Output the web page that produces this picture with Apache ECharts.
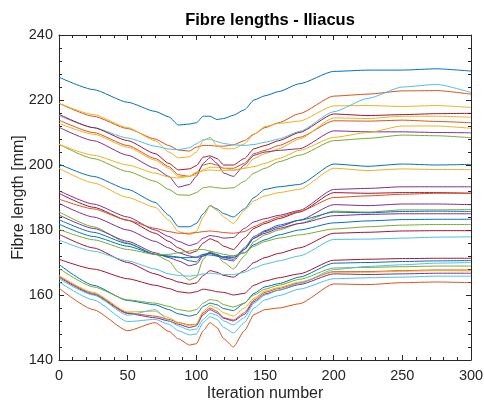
<!DOCTYPE html>
<html>
<head>
<meta charset="utf-8">
<script src="https://cdn.jsdelivr.net/npm/echarts@6/dist/echarts.min.js"></script>
<style>
  html, body { margin: 0; padding: 0; background: #fff; }
  #chart { width: 484px; height: 401px; }
</style>
</head>
<body>
<div id="chart"></div>
<script>
const iterations = [0, 25, 50, 70, 80, 87, 95, 100, 105, 110, 115, 120, 127, 135, 142, 150, 160, 175, 200, 225, 250, 275, 300];

// fibre lengths [mm], top group
const fibre01 = [227, 223.2, 219.3, 216.5, 214.8, 212.3, 212.6, 213, 215, 215, 214, 214.3, 215.3, 217, 220, 221.3, 222.6, 225, 228.8, 229.2, 229.2, 229.6, 228.9];
const fibre02 = [219, 215, 211.2, 208, 206, 204.6, 204.3, 205.5, 206, 206, 205.8, 205.8, 206.2, 207.5, 209.5, 211.5, 213, 215.8, 221.2, 221.8, 222.8, 222.9, 221.8];
const fibre03 = [219, 215.5, 211.5, 207.5, 204, 202.2, 202.5, 204, 207.5, 208.5, 206, 205, 205, 206.5, 209.5, 211.8, 212.8, 213.5, 218.2, 218.3, 218, 218.3, 217.7];
const fibre04 = [215.2, 211.5, 208.3, 205.8, 204.9, 204.7, 205.3, 206.5, 207.8, 208, 207.2, 206.6, 206.2, 206, 206.3, 207, 208, 210.3, 216.4, 220.5, 224, 224.8, 222.3];
const fibre05 = [215.6, 211.5, 207.5, 203.5, 200.5, 198.5, 198.8, 199.8, 202.4, 202.8, 202, 200, 200, 202, 205, 206, 207.5, 210, 215.7, 215.2, 215.5, 215.8, 215.9];
const fibre06 = [213.8, 210, 206, 202, 199.5, 197, 196.5, 197.5, 200, 200.5, 200, 199, 199, 200.5, 203.5, 204.5, 206, 208.5, 213.6, 213.5, 213.8, 213.4, 213];
const fibre07 = [212.8, 209.5, 205.5, 201.5, 199, 196.5, 196.5, 197, 198.5, 199.3, 199.3, 199, 198.3, 199, 202, 203.5, 205, 208, 214.5, 214.3, 215, 215, 214.7];
const fibre08 = [211.6, 207.5, 203, 199, 196.5, 193.2, 194, 196.5, 200.5, 202.3, 200.5, 197.5, 196.5, 200, 203, 204, 204.5, 205, 210.5, 210.2, 210.2, 210, 209.9];
const fibre09 = [206.4, 202, 198, 195, 192.5, 190.8, 190.7, 191.5, 193, 193.3, 193, 192.8, 193, 195, 197.5, 199, 201, 203, 207.5, 208.2, 209.2, 209, 208.4];
const fibre10 = [206.4, 203, 200, 197.5, 196.3, 196, 196.5, 197.8, 198.2, 198.5, 198.3, 198.3, 198.5, 199, 199.5, 200.5, 202, 204.5, 208.5, 210, 212, 212, 211.3];
const fibre11 = [200.3, 196.5, 192.5, 188.5, 184.5, 181, 181, 182, 185, 187.5, 186.5, 185, 184, 186.5, 190, 192.5, 193.3, 194, 200.3, 199.6, 200.3, 200, 200.2];
const fibre12 = [199, 194.5, 190, 187, 183, 179.5, 178.5, 179.5, 184, 187.5, 186, 184, 182, 186, 189, 190.5, 191.5, 192.5, 199, 198.3, 198.8, 198.6, 198.6];

// middle group
const fibre13 = [192.1, 188, 184, 180, 178, 176.5, 175.2, 175.8, 177.5, 178.3, 178, 177.5, 177.7, 180.5, 182.5, 183.5, 184.5, 186, 192.5, 192.8, 193.3, 193.3, 193.3];
const fibre14 = [191.3, 187, 183, 179, 176.5, 174.5, 172.8, 173.5, 176, 177.3, 176.5, 175, 174, 177.5, 180.5, 182, 183.5, 185.5, 191.5, 191.3, 191.5, 191.5, 191.3];
const fibre15 = [189.5, 186.5, 183, 180.5, 179.5, 179, 179, 179.2, 179.5, 179.7, 179.5, 179.2, 179, 179.5, 181, 182.5, 184, 185.7, 190, 190.5, 191, 191.3, 191.3];
const fibre16 = [188.2, 184, 180, 176.5, 174.5, 173, 172, 171.5, 172, 173, 172.5, 171.5, 171.5, 174, 177.5, 179.5, 181, 183, 187.8, 187.5, 188, 188, 187.8];
const fibre17 = [185.6, 181, 176, 172.5, 170.5, 167, 164.6, 165.5, 171, 173.5, 172.3, 170, 168, 172, 176.5, 178.5, 180, 182, 185.8, 185.5, 186.2, 186.2, 186.3];
const fibre18 = [183.2, 179.3, 175.8, 172.5, 172, 171.7, 170.5, 170.2, 172.5, 173, 172.3, 171.5, 171, 174.5, 178, 179.8, 181.5, 183, 185.5, 185.3, 185.7, 185.8, 185.7];
const fibre19 = [184.6, 180.5, 176.5, 173, 171.5, 170.5, 169, 169.5, 172, 172.8, 172, 171, 170.5, 174, 177.5, 179, 180.5, 182, 184.4, 184.8, 185, 185, 185];
const fibre20 = [181.8, 178, 175, 172.5, 171.8, 171.5, 171.5, 171.7, 172.5, 172.3, 172, 171.8, 172, 173, 175.5, 177, 178.5, 180, 182.2, 182.8, 183.2, 183.3, 183.3];
const fibre21 = [180.2, 177, 174, 172.5, 172.5, 173, 173.5, 174, 174, 173.5, 173, 172.5, 172, 173, 175, 176.5, 177.5, 178.5, 180.3, 181, 181.5, 181.7, 181.7];
const fibre22 = [178.7, 174.5, 170, 166.5, 165, 164, 163.3, 163.7, 166, 167.5, 167, 166, 165.5, 167.5, 170, 171.5, 172.8, 174.5, 179, 179.3, 179.7, 179.8, 179.8];
const fibre23 = [176.9, 173.5, 170.5, 168, 166.5, 166, 165.8, 166, 166.5, 166.7, 166.5, 166.3, 166.3, 167, 168.3, 169.5, 170.5, 172, 177.1, 177.2, 177.5, 177.8, 177.9];
const fibre24 = [171, 168, 165, 163, 162, 161, 160.6, 161, 161.8, 161.5, 161, 160.8, 160, 160.5, 163, 164.3, 165.3, 166.5, 170.7, 171, 171.2, 171.3, 171.3];

// bottom group
const fibre25 = [169.4, 163, 158.3, 157, 155.5, 154.2, 153.5, 154, 156.5, 157.5, 157, 155.8, 155.2, 157.5, 160.5, 162.5, 163.5, 165.5, 169.8, 170, 170.3, 170.5, 170.6];
const fibre26 = [168.2, 162.5, 158.5, 157.5, 156.5, 155.5, 155, 155.5, 157.5, 158.6, 158.3, 157, 156.3, 157.5, 160, 161.8, 163, 164.8, 168.3, 168.5, 168.7, 168.9, 168.9];
const fibre27 = [165.8, 160.5, 154.5, 153.5, 152.5, 151.5, 150.8, 151, 154.5, 156, 155, 153, 152.3, 154.5, 158.5, 160.8, 162, 163.7, 167.2, 167.2, 167.5, 167.7, 167.7];
const fibre28 = [165.5, 160.2, 154.3, 153, 152, 151, 150, 150.5, 154, 155.5, 154.5, 152.8, 152, 154, 158, 160.3, 161.5, 163.2, 166.5, 166.3, 166.5, 166.7, 166.7];
const fibre29 = [166, 160.8, 154.8, 155, 153, 151.5, 150.6, 151, 155, 156.8, 156, 154.5, 153.5, 156, 159, 161.2, 162.3, 164, 167, 167, 167.3, 167.5, 167.4];
const fibre30 = [165, 160, 153.8, 155.5, 152, 150.5, 149.2, 149.5, 152.5, 154.4, 153.8, 152, 150.8, 153, 157.5, 160, 161.5, 163.5, 167.8, 168.8, 169.3, 169.8, 170];
const fibre31 = [164, 158.5, 151.8, 152.5, 151, 149, 147.7, 148, 151.5, 153.3, 152.5, 150, 148.3, 151.5, 156, 158.5, 159.8, 161.8, 165, 165.3, 165.5, 165.8, 165.8];
const fibre32 = [162.1, 155.5, 149, 151.5, 148.8, 146.5, 144.6, 145, 149, 151.5, 150, 146.5, 144, 149, 154, 155.5, 156, 157.3, 163.4, 163.2, 163.8, 164, 163.8];

const xTicks = { min: 0, max: 300, step: 50 };
const yTicks = { min: 140, max: 240, step: 20 };

// matlab default colour order
const BLUE = '#0072BD', ORANGE = '#D95319', YELLOW = '#EDB120', PURPLE = '#7E2F8E',
      GREEN = '#77AC30', CYAN = '#4DBEEE', DKRED = '#A2142F';

const fibres = [
  [fibre01, BLUE], [fibre02, ORANGE], [fibre03, YELLOW], [fibre04, CYAN],
  [fibre05, DKRED], [fibre06, ORANGE], [fibre07, YELLOW], [fibre08, PURPLE],
  [fibre09, GREEN], [fibre10, YELLOW], [fibre11, BLUE], [fibre12, YELLOW],
  [fibre13, PURPLE], [fibre14, DKRED], [fibre15, ORANGE], [fibre16, PURPLE],
  [fibre17, GREEN], [fibre18, BLUE], [fibre19, PURPLE], [fibre20, BLUE],
  [fibre21, GREEN], [fibre22, DKRED], [fibre23, CYAN], [fibre24, DKRED],
  [fibre25, BLUE], [fibre26, GREEN], [fibre27, ORANGE], [fibre28, PURPLE],
  [fibre29, YELLOW], [fibre30, CYAN], [fibre31, CYAN], [fibre32, ORANGE]
];

const axisCol = '#262626';
const font = 'Liberation Sans, Arial, Helvetica, sans-serif';

function boxAxis(range, pos, labels) {
  return {
    type: 'value',
    position: pos,
    min: range.min,
    max: range.max,
    interval: range.step,
    axisLine: { show: true, onZero: false, lineStyle: { color: axisCol, width: 1 } },
    axisTick: { show: true, inside: true, length: 5, lineStyle: { color: axisCol } },
    minorTick: { show: true, splitNumber: 5, length: 3, lineStyle: { color: axisCol } },
    splitLine: { show: false },
    axisLabel: { show: labels, color: axisCol, fontSize: 14.5, fontFamily: font,
                 margin: pos === 'left' ? 6 : 8 }
  };
}

const chart = echarts.init(document.getElementById('chart'), null, { renderer: 'canvas' });

const xBottom = boxAxis(xTicks, 'bottom', true);
xBottom.name = 'Iteration number';
xBottom.nameLocation = 'middle';
xBottom.nameGap = 26;
xBottom.nameMoveOverlap = false;
xBottom.nameTextStyle = { color: axisCol, fontSize: 16, fontFamily: font };

const yLeft = boxAxis(yTicks, 'left', true);
yLeft.name = 'Fibre length [mm]';
yLeft.nameLocation = 'middle';
yLeft.nameGap = 32;
yLeft.nameMoveOverlap = false;
yLeft.nameTextStyle = { color: axisCol, fontSize: 16, fontFamily: font };

chart.setOption({
  animation: false,
  backgroundColor: '#fff',
  title: {
    text: 'Fibre lengths - Iliacus',
    left: 265, top: 7, textAlign: 'center',
    textStyle: { fontSize: 16.5, fontWeight: 'bold', color: '#000', fontFamily: font }
  },
  grid: { left: 59, right: 13, top: 35, bottom: 41, outerBoundsMode: 'none' },
  xAxis: [xBottom, boxAxis(xTicks, 'top', false)],
  yAxis: [yLeft, boxAxis(yTicks, 'right', false)],
  series: fibres.map(([vals, col]) => ({
    type: 'line',
    showSymbol: false,
    silent: true,
    smooth: 0.2,
    smoothMonotone: 'x',
    lineStyle: { width: 1, color: col },
    data: vals.map((v, i) => [iterations[i], v])
  }))
});
</script>
</body>
</html>
